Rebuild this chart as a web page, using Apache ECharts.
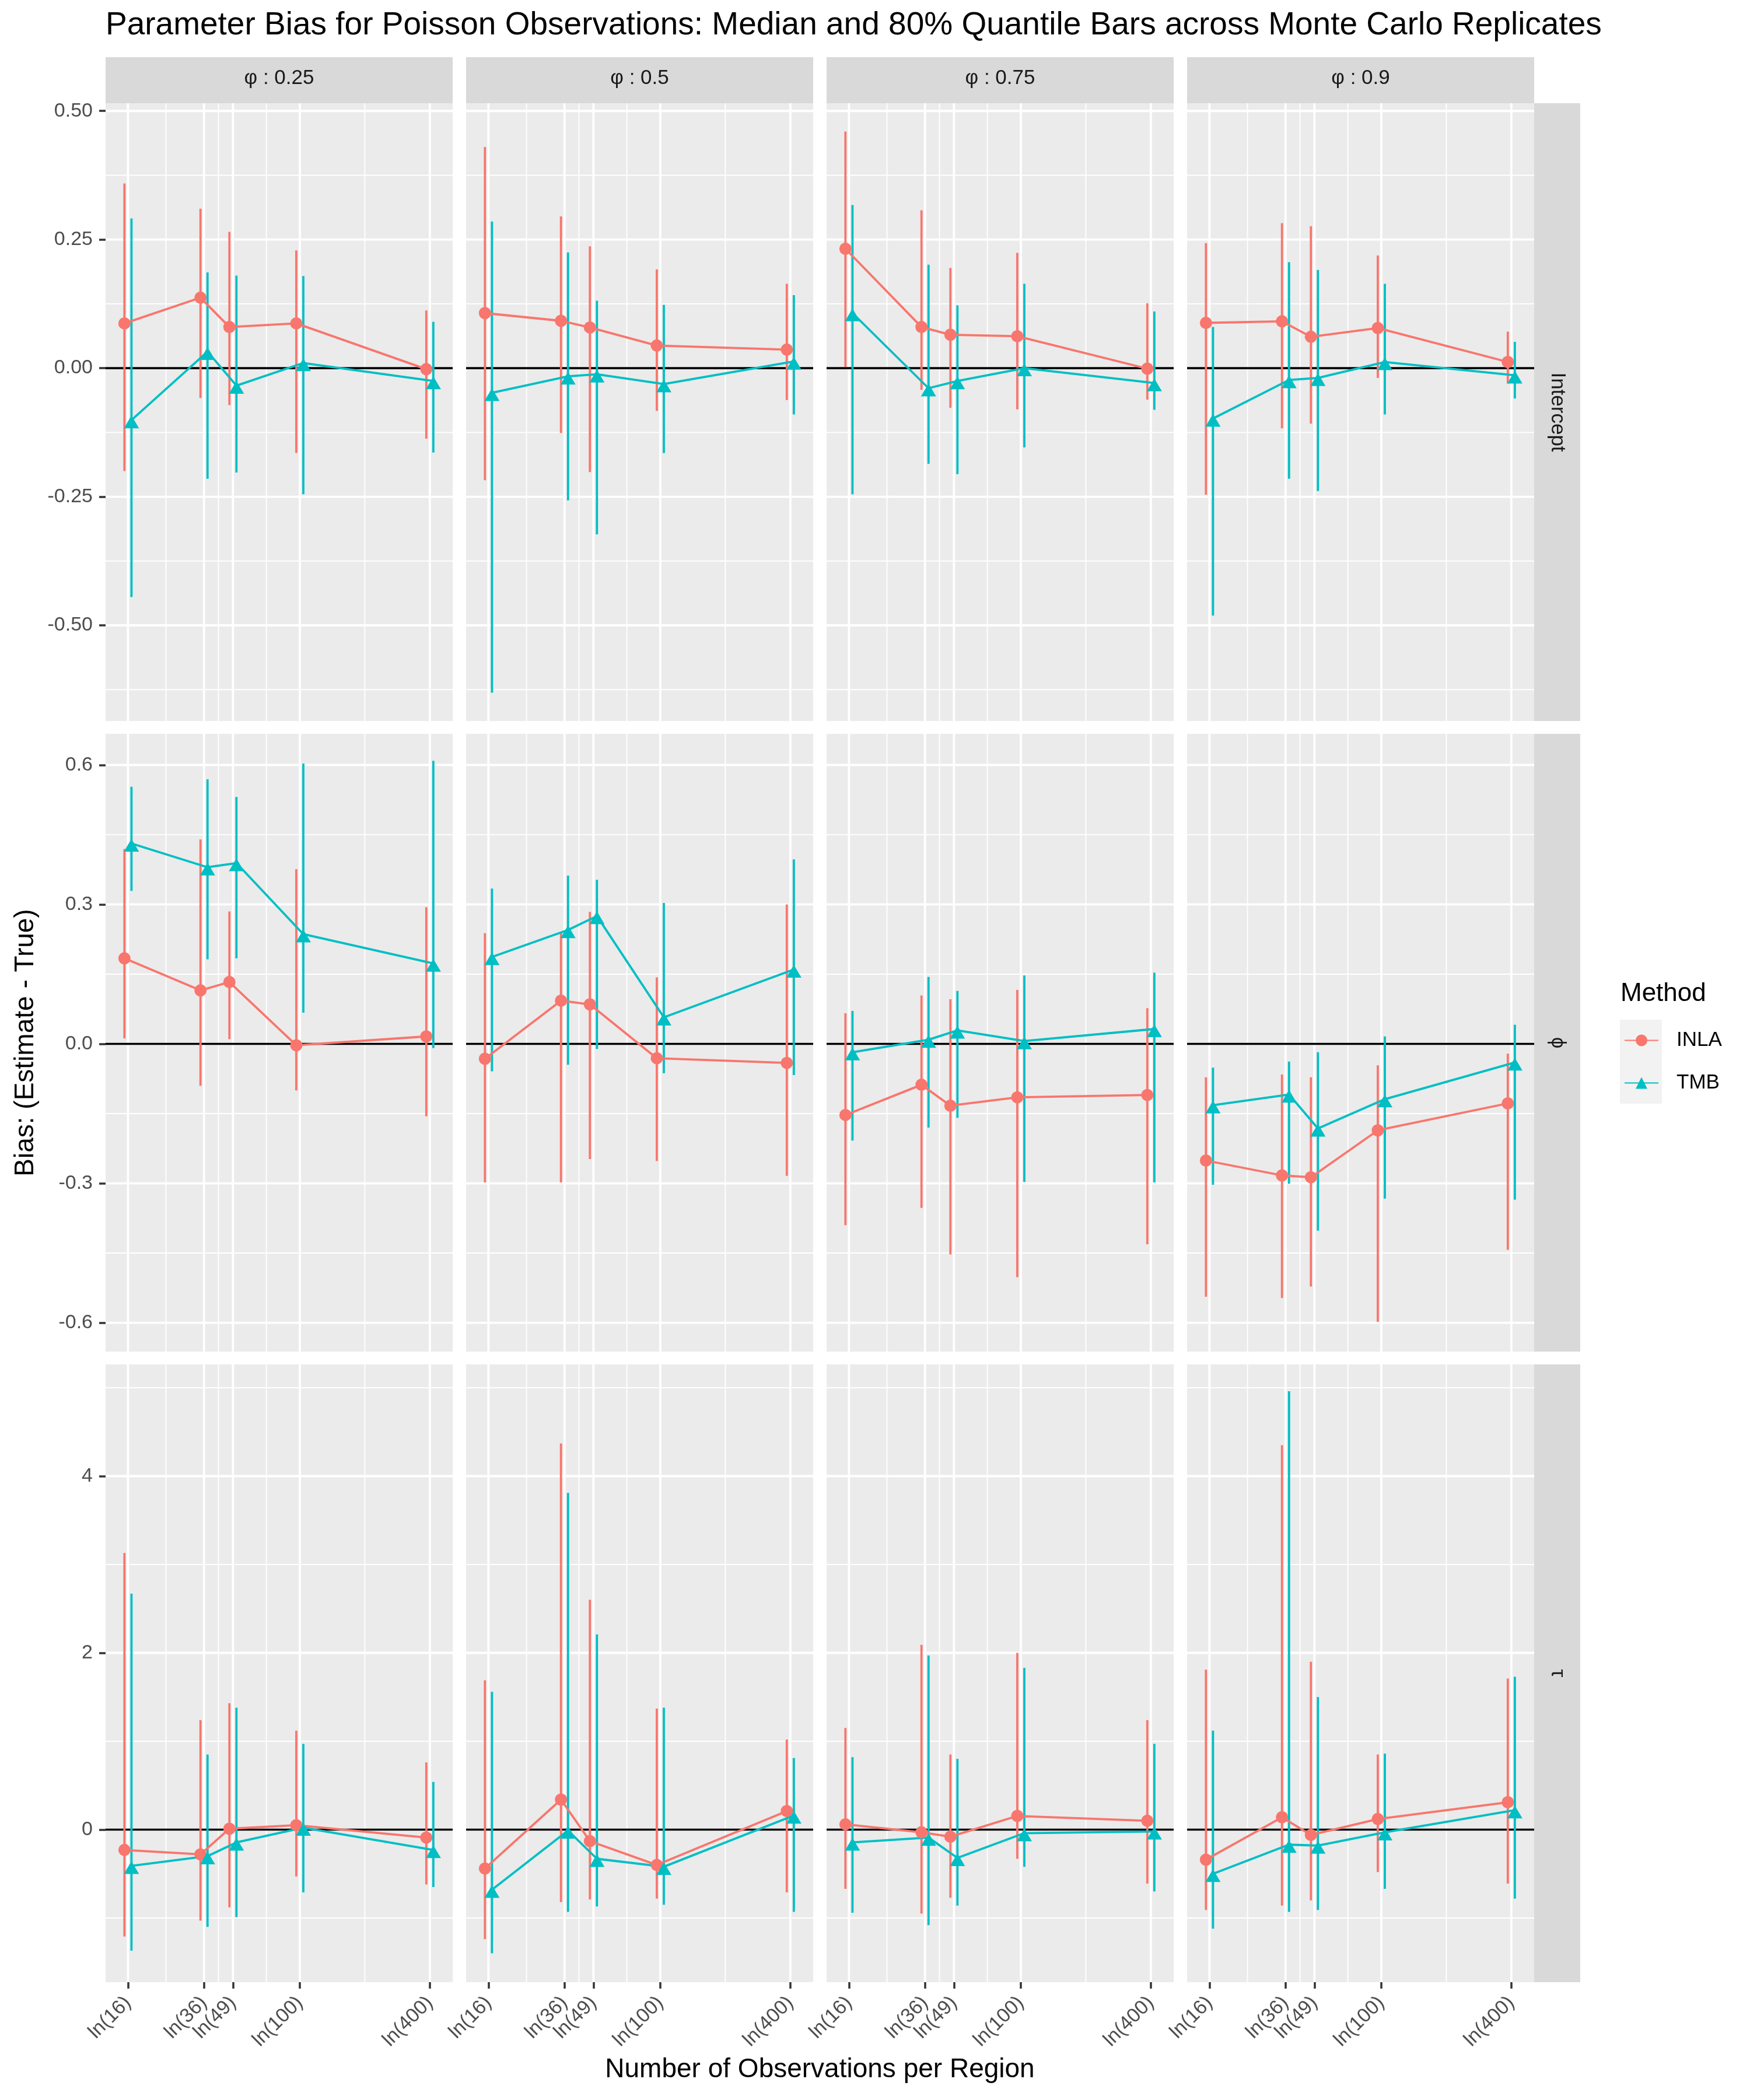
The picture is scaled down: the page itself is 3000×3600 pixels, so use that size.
<!DOCTYPE html>
<html>
<head>
<meta charset="utf-8">
<title>Parameter Bias for Poisson Observations</title>
<script src="https://cdn.jsdelivr.net/npm/echarts@6/dist/echarts.min.js"></script>
<style>
  html, body { margin: 0; padding: 0; background: #ffffff; }
  #chart { width: 3000px; height: 3600px; }
</style>
</head>
<body>
<div id="chart"></div>
<script>
// ===== data =====
const obsCounts = [16, 36, 49, 100, 400];
const xTickLabels = ['ln(16)', 'ln(36)', 'ln(49)', 'ln(100)', 'ln(400)'];
const phiLevels = ['0.25', '0.5', '0.75', '0.9'];
const paramNames = ['Intercept', 'ϕ', 'τ'];
const methodNames = ['INLA', 'TMB'];

// one inner array per φ level, values in obsCounts order
const interceptInlaMed = [
    [0.087, 0.137, 0.080, 0.087, -0.002],
    [0.107, 0.092, 0.079, 0.044, 0.036],
    [0.232, 0.080, 0.065, 0.062, -0.001],
    [0.088, 0.091, 0.061, 0.078, 0.012],
];
const interceptInlaLo = [
    [-0.200, -0.058, -0.072, -0.165, -0.137],
    [-0.218, -0.126, -0.202, -0.083, -0.062],
    [0.002, -0.042, -0.077, -0.080, -0.061],
    [-0.246, -0.117, -0.108, -0.019, -0.030],
];
const interceptInlaHi = [
    [0.359, 0.310, 0.265, 0.229, 0.112],
    [0.430, 0.295, 0.237, 0.192, 0.164],
    [0.460, 0.307, 0.195, 0.224, 0.126],
    [0.243, 0.282, 0.276, 0.219, 0.071],
];
const interceptTmbMed = [
    [-0.101, 0.032, -0.034, 0.010, -0.025],
    [-0.048, -0.016, -0.012, -0.031, 0.013],
    [0.107, -0.039, -0.025, 0.000, -0.029],
    [-0.098, -0.023, -0.019, 0.012, -0.014],
];
const interceptTmbLo = [
    [-0.445, -0.215, -0.203, -0.245, -0.164],
    [-0.631, -0.257, -0.323, -0.165, -0.090],
    [-0.245, -0.186, -0.206, -0.154, -0.081],
    [-0.481, -0.215, -0.239, -0.090, -0.059],
];
const interceptTmbHi = [
    [0.291, 0.186, 0.180, 0.179, 0.090],
    [0.285, 0.225, 0.131, 0.123, 0.142],
    [0.317, 0.201, 0.122, 0.164, 0.110],
    [0.080, 0.206, 0.191, 0.164, 0.051],
];

const phiInlaMed = [
    [0.184, 0.115, 0.133, -0.003, 0.016],
    [-0.032, 0.093, 0.085, -0.031, -0.041],
    [-0.153, -0.088, -0.133, -0.115, -0.110],
    [-0.251, -0.283, -0.287, -0.186, -0.128],
];
const phiInlaLo = [
    [0.012, -0.090, 0.010, -0.100, -0.156],
    [-0.298, -0.298, -0.248, -0.252, -0.284],
    [-0.390, -0.353, -0.453, -0.502, -0.431],
    [-0.544, -0.547, -0.522, -0.598, -0.443],
];
const phiInlaHi = [
    [0.419, 0.440, 0.285, 0.376, 0.294],
    [0.238, 0.241, 0.284, 0.143, 0.300],
    [0.066, 0.104, 0.096, 0.116, 0.077],
    [-0.072, -0.066, -0.072, -0.046, -0.021],
];
const phiTmbMed = [
    [0.431, 0.380, 0.389, 0.236, 0.173],
    [0.187, 0.245, 0.275, 0.057, 0.160],
    [-0.018, 0.009, 0.029, 0.006, 0.032],
    [-0.132, -0.109, -0.182, -0.119, -0.040],
];
const phiTmbLo = [
    [0.329, 0.182, 0.184, 0.067, -0.009],
    [-0.059, -0.045, -0.011, -0.063, -0.067],
    [-0.208, -0.180, -0.159, -0.297, -0.298],
    [-0.303, -0.301, -0.402, -0.333, -0.335],
];
const phiTmbHi = [
    [0.553, 0.569, 0.531, 0.603, 0.609],
    [0.334, 0.362, 0.353, 0.303, 0.397],
    [0.071, 0.144, 0.114, 0.147, 0.153],
    [-0.051, -0.038, -0.018, 0.016, 0.041],
];

const tauInlaMed = [
    [-0.23, -0.28, 0.01, 0.05, -0.09],
    [-0.44, 0.34, -0.13, -0.40, 0.21],
    [0.06, -0.03, -0.08, 0.155, 0.10],
    [-0.34, 0.14, -0.06, 0.12, 0.31],
];
const tauInlaLo = [
    [-1.21, -1.03, -0.88, -0.53, -0.62],
    [-1.24, -0.82, -0.79, -0.78, -0.71],
    [-0.67, -0.95, -0.77, -0.33, -0.61],
    [-0.91, -0.86, -0.80, -0.48, -0.61],
];
const tauInlaHi = [
    [3.13, 1.24, 1.43, 1.12, 0.76],
    [1.69, 4.37, 2.60, 1.37, 1.02],
    [1.15, 2.09, 0.85, 2.00, 1.24],
    [1.81, 4.35, 1.90, 0.85, 1.71],
];
const tauTmbMed = [
    [-0.41, -0.30, -0.145, 0.023, -0.23],
    [-0.68, -0.01, -0.33, -0.42, 0.16],
    [-0.145, -0.09, -0.32, -0.04, -0.02],
    [-0.50, -0.17, -0.18, -0.03, 0.22],
];
const tauTmbLo = [
    [-1.37, -1.10, -0.99, -0.71, -0.65],
    [-1.40, -0.93, -0.87, -0.85, -0.93],
    [-0.94, -1.08, -0.86, -0.42, -0.70],
    [-1.12, -0.93, -0.91, -0.67, -0.78],
];
const tauTmbHi = [
    [2.67, 0.85, 1.38, 0.97, 0.54],
    [1.56, 3.81, 2.21, 1.38, 0.81],
    [0.82, 1.97, 0.80, 1.83, 0.97],
    [1.12, 4.96, 1.50, 0.86, 1.73],
];

// y breaks per parameter row
const interceptTicks = [-0.5, -0.25, 0, 0.25, 0.5];
const interceptTickLabels = ['-0.50', '-0.25', '0.00', '0.25', '0.50'];
const phiTicks = [-0.6, -0.3, 0, 0.3, 0.6];
const phiTickLabels = ['-0.6', '-0.3', '0.0', '0.3', '0.6'];
const tauTicks = [0, 2, 4];
const tauTickLabels = ['0', '2', '4'];

// ===== layout / style =====
const FONT = '"Liberation Sans", Arial, Helvetica, sans-serif';
const METHOD_COLORS = { INLA: '#F8766D', TMB: '#00BFC4' };
const PANEL_BG = '#EBEBEB';
const STRIP_BG = '#D9D9D9';

const panelLeft = [181, 799, 1417, 2035];
const panelTop = [177, 1258, 2339];
const panelW = 595;
const panelH = 1059;
const stripSize = 79;

const xMin = 2.534, xMax = 6.235;
const yLimits = [[-0.686, 0.515], [-0.662, 0.667], [-1.726, 5.264]];
const dodge = 0.0375;

const rows = [
    { ticks: interceptTicks, labels: interceptTickLabels,
      INLA: [interceptInlaMed, interceptInlaLo, interceptInlaHi],
      TMB: [interceptTmbMed, interceptTmbLo, interceptTmbHi] },
    { ticks: phiTicks, labels: phiTickLabels,
      INLA: [phiInlaMed, phiInlaLo, phiInlaHi],
      TMB: [phiTmbMed, phiTmbLo, phiTmbHi] },
    { ticks: tauTicks, labels: tauTickLabels,
      INLA: [tauInlaMed, tauInlaLo, tauInlaHi],
      TMB: [tauTmbMed, tauTmbLo, tauTmbHi] },
];

const lnBreaks = obsCounts.map(n => Math.log(n));

// ggplot-style minor breaks: midpoints between majors, extended one step each side
function minorBreaks(major, lo, hi) {
    const out = [];
    const ext = [2 * major[0] - major[1], ...major, 2 * major[major.length - 1] - major[major.length - 2]];
    for (let i = 1; i < ext.length; i++) {
        const m = (ext[i - 1] + ext[i]) / 2;
        if (m > lo && m < hi) out.push(m);
    }
    return out;
}

function labelFor(values, labels) {
    return function (v) {
        for (let i = 0; i < values.length; i++) {
            if (Math.abs(values[i] - v) < 1e-6) return labels[i];
        }
        return '';
    };
}

// ===== render helpers =====
function renderGuide(params, api) {
    const kind = api.value(2);
    const cs = params.coordSys;
    const p = api.coord([api.value(0), api.value(1)]);
    let shape, style;
    if (kind === 0 || kind === 1) {
        shape = { x1: p[0], y1: cs.y, x2: p[0], y2: cs.y + cs.height };
    } else {
        shape = { x1: cs.x, y1: p[1], x2: cs.x + cs.width, y2: p[1] };
    }
    if (kind === 4) {
        style = { stroke: '#000000', lineWidth: 3.6 };
    } else {
        style = { stroke: '#FFFFFF', lineWidth: (kind === 1 || kind === 3) ? 3.8 : 1.9 };
    }
    return { type: 'line', shape: shape, style: style, silent: true };
}

function makeBarRenderer(color) {
    return function (params, api) {
        const x = api.value(0);
        const a = api.coord([x, api.value(1)]);
        const b = api.coord([x, api.value(2)]);
        return {
            type: 'line',
            shape: { x1: a[0], y1: a[1], x2: b[0], y2: b[1] },
            style: { stroke: color, lineWidth: 3.8 },
            silent: true,
        };
    };
}

// ===== build option =====
const grids = [], xAxes = [], yAxes = [], series = [], graphics = [];

rows.forEach((row, r) => {
    const [yLo, yHi] = yLimits[r];
    const yMinor = minorBreaks(row.ticks, yLo, yHi);
    const xMinor = minorBreaks(lnBreaks, xMin, xMax);

    phiLevels.forEach((phi, c) => {
        const gi = r * 4 + c;
        grids.push({
            left: panelLeft[c], top: panelTop[r], width: panelW, height: panelH,
            show: true, backgroundColor: PANEL_BG, borderWidth: 0,
        });
        const bottomRow = r === rows.length - 1;
        const leftCol = c === 0;
        xAxes.push({
            gridIndex: gi, type: 'value', min: xMin, max: xMax,
            axisLine: { show: false, onZero: false },
            splitLine: { show: false },
            axisTick: {
                show: bottomRow, customValues: lnBreaks, length: 11,
                lineStyle: { color: '#333333', width: 3.5 },
            },
            axisLabel: {
                show: bottomRow, customValues: lnBreaks,
                formatter: labelFor(lnBreaks, xTickLabels),
                rotate: 45, margin: 30, fontSize: 34, color: '#4D4D4D', fontFamily: FONT,
                showMinLabel: true, showMaxLabel: true, hideOverlap: false,
            },
        });
        yAxes.push({
            gridIndex: gi, type: 'value', min: yLo, max: yHi,
            axisLine: { show: false, onZero: false },
            splitLine: { show: false },
            axisTick: {
                show: leftCol, customValues: row.ticks, length: 11,
                lineStyle: { color: '#333333', width: 3.5 },
            },
            axisLabel: {
                show: leftCol, customValues: row.ticks,
                formatter: labelFor(row.ticks, row.labels),
                margin: 22, fontSize: 34, color: '#4D4D4D', fontFamily: FONT,
                showMinLabel: true, showMaxLabel: true,
            },
        });

        // background guides: minor/major verticals, minor/major horizontals, zero line
        const guides = [];
        xMinor.forEach(v => guides.push([v, 0, 0]));
        lnBreaks.forEach(v => guides.push([v, 0, 1]));
        yMinor.forEach(v => guides.push([xMin, v, 2]));
        row.ticks.forEach(v => guides.push([xMin, v, 3]));
        guides.push([xMin, 0, 4]);
        series.push({
            type: 'custom', name: 'guides', xAxisIndex: gi, yAxisIndex: gi,
            renderItem: renderGuide, data: guides, z: 1, silent: true,
            dimensions: ['x', 'y', 'kind'], encode: { x: 0, y: 1 },
        });

        // quantile bars
        methodNames.forEach((m, mi) => {
            const off = mi === 0 ? -dodge : dodge;
            const [med, lo, hi] = row[m];
            series.push({
                type: 'custom', name: m + ' bars', xAxisIndex: gi, yAxisIndex: gi,
                renderItem: makeBarRenderer(METHOD_COLORS[m]), z: 2, silent: true,
                dimensions: ['x', 'lo', 'hi'], encode: { x: 0, y: [1, 2] },
                data: lnBreaks.map((x, k) => [x + off, lo[c][k], hi[c][k]]),
            });
        });
        // medians: line + points
        methodNames.forEach((m, mi) => {
            const off = mi === 0 ? -dodge : dodge;
            const med = row[m][0];
            series.push({
                type: 'line', name: m, xAxisIndex: gi, yAxisIndex: gi, z: 3,
                data: lnBreaks.map((x, k) => [x + off, med[c][k]]),
                symbol: mi === 0 ? 'circle' : 'triangle',
                symbolSize: mi === 0 ? 21 : [26, 22],
                symbolOffset: mi === 0 ? [0, 0] : [0, 3],
                showSymbol: true, silent: true,
                lineStyle: { color: METHOD_COLORS[m], width: 3.8 },
                itemStyle: { color: METHOD_COLORS[m], borderWidth: 0 },
                emphasis: { disabled: true },
            });
        });

        // top strip
        if (r === 0) {
            graphics.push({
                type: 'rect', shape: { x: panelLeft[c], y: panelTop[0] - stripSize, width: panelW, height: stripSize },
                style: { fill: STRIP_BG }, silent: true,
            });
            graphics.push({
                type: 'text', x: panelLeft[c] + panelW / 2, y: panelTop[0] - stripSize / 2 - 3,
                style: { text: 'φ : ' + phi, fill: '#1A1A1A', font: '35px ' + FONT, align: 'center', verticalAlign: 'middle' },
                silent: true,
            });
        }
    });

    // right strip
    const sx = panelLeft[3] + panelW;
    graphics.push({
        type: 'rect', shape: { x: sx, y: panelTop[r], width: stripSize, height: panelH },
        style: { fill: STRIP_BG }, silent: true,
    });
    graphics.push({
        type: 'text', x: sx + stripSize / 2, y: panelTop[r] + panelH / 2, rotation: -Math.PI / 2,
        style: { text: paramNames[r], fill: '#1A1A1A', font: '35px ' + FONT, align: 'center', verticalAlign: 'middle' },
        silent: true,
    });
});

// titles
graphics.push({
    type: 'text', x: 181, y: 44,
    style: { text: 'Parameter Bias for Poisson Observations: Median and 80% Quantile Bars across Monte Carlo Replicates',
             fill: '#000000', font: '55px ' + FONT, align: 'left', verticalAlign: 'middle' },
    silent: true,
});
graphics.push({
    type: 'text', x: (panelLeft[0] + panelLeft[3] + panelW) / 2, y: 3548,
    style: { text: 'Number of Observations per Region', fill: '#000000', font: '46px ' + FONT, align: 'center', verticalAlign: 'middle' },
    silent: true,
});
graphics.push({
    type: 'text', x: 44, y: (panelTop[0] + panelTop[2] + panelH) / 2, rotation: Math.PI / 2,
    style: { text: 'Bias: (Estimate - True)', fill: '#000000', font: '46px ' + FONT, align: 'center', verticalAlign: 'middle' },
    silent: true,
});
// legend title and key background
graphics.push({
    type: 'text', x: 2778, y: 1704,
    style: { text: 'Method', fill: '#000000', font: '44px ' + FONT, align: 'left', verticalAlign: 'middle' },
    silent: true,
});
graphics.push({
    type: 'rect', shape: { x: 2777, y: 1748, width: 72, height: 144 },
    style: { fill: '#F2F2F2' }, silent: true, z: -1,
});

const chart = echarts.init(document.getElementById('chart'), null, { renderer: 'canvas' });
chart.setOption({
    animation: false,
    backgroundColor: '#FFFFFF',
    grid: grids,
    xAxis: xAxes,
    yAxis: yAxes,
    series: series,
    graphic: graphics,
    legend: {
        data: methodNames,
        orient: 'vertical',
        left: 2784, top: 1766,
        padding: 0,
        itemWidth: 58, itemHeight: 25, itemGap: 38,
        selectedMode: false,
        textStyle: { fontSize: 35, color: '#000000', fontFamily: FONT, padding: [0, 0, 0, 26] },
    },
});
</script>
</body>
</html>
